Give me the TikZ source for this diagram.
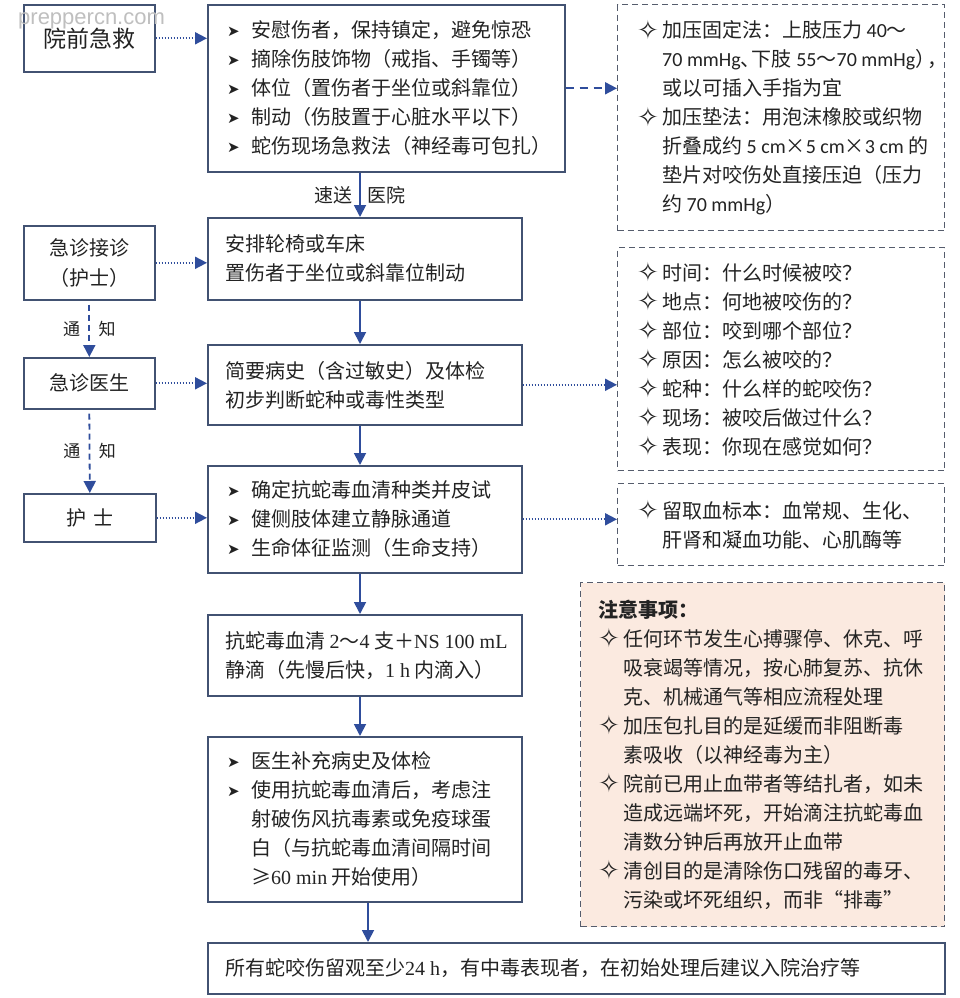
\documentclass[tikz,border=0pt]{standalone}
\usepackage{fontspec}
\setmainfont{Noto Sans CJK SC}
\newfontfamily\symf{DejaVu Sans}
\newfontfamily\serf{Liberation Serif}
\newfontfamily\calf{Carlito}
\newfontfamily\wmf{Liberation Sans}
\usetikzlibrary{arrows.meta,calc}

\definecolor{boxc}{RGB}{66,82,114}
\definecolor{arrc}{RGB}{47,77,156}
\definecolor{dashc}{RGB}{85,92,108}
\definecolor{notefill}{RGB}{251,234,224}
\definecolor{txt}{RGB}{35,35,35}

\newcommand{\arw}{\makebox[24pt][l]{\raisebox{1pt}{\symf\fontsize{15}{15}\selectfont ➤}}}
\newcommand{\dmd}{\makebox[25pt][l]{\raisebox{-1.5pt}{\symf\fontsize{26}{26}\selectfont ✧}}}
\newcommand{\indA}{\hspace*{24pt}}
\newcommand{\indB}{\hspace*{25pt}}

\tikzset{
  box/.style={draw=boxc, line width=1.6pt, fill=white, inner sep=0pt, anchor=north west, text=txt},
  dbox/.style={draw=dashc, line width=1.4pt, dash pattern=on 6pt off 4pt, inner sep=0pt, anchor=north west},
  txtn/.style={anchor=west, align=left, inner sep=0pt, text=txt, font=\fontsize{20}{29}\selectfont},
  solidarr/.style={draw=arrc, line width=1.8pt, -{Triangle[length=12pt,width=12pt]}},
  dotarr/.style={draw=arrc, line width=1.8pt, dash pattern=on 1.6pt off 1.4pt, -{Triangle[length=12pt,width=12pt]}},
  dasharr/.style={draw=arrc, line width=1.8pt, dash pattern=on 8pt off 6pt, -{Triangle[length=12pt,width=12pt]}},
  notarr/.style={draw=arrc, line width=1.8pt, dash pattern=on 6pt off 4pt, shorten <=4pt, -{Triangle[length=12pt,width=12pt]}},
  lab/.style={text=txt, font=\fontsize{19}{19}\selectfont},
  lab2/.style={text=txt, font=\fontsize{17}{17}\selectfont},
}

\begin{document}
\begin{tikzpicture}[x=1pt,y=-1pt]
\fill[white] (0,0) rectangle (960,998);
\useasboundingbox (0,0) rectangle (960,998);

% left column
\node[box, minimum width=131pt, minimum height=67pt, font=\fontsize{23}{29}\selectfont] (L1) at (23,4) {院前急救};
\node[box, minimum width=131pt, minimum height=74pt, align=center, font=\fontsize{20}{30}\selectfont] (L2) at (23,225) {急诊接诊\\（护士）};
\node[box, minimum width=131pt, minimum height=51pt, font=\fontsize{20}{29}\selectfont] (L3) at (23,357) {急诊医生};
\node[box, minimum width=132pt, minimum height=48pt, font=\fontsize{20}{29}\selectfont] (L4) at (23,493) {护\hspace{7pt}士};

% watermark
\node[font=\wmf\fontsize{22}{22}\selectfont, text=gray!50, anchor=west, inner sep=0pt] (wm) at (18,21) {preppercn.com};

% main column
\node[box, minimum width=357pt, minimum height=167pt] (b1) at (207,4) {};
\node[box, minimum width=314pt, minimum height=82pt] (b2) at (207,217) {};
\node[box, minimum width=314pt, minimum height=80pt] (b3) at (207,344) {};
\node[box, minimum width=314pt, minimum height=107pt] (b4) at (207,465) {};
\node[box, minimum width=314pt, minimum height=81pt] (b5) at (207,614) {};
\node[box, minimum width=314pt, minimum height=165pt] (b6) at (207,736) {};
\node[box, minimum width=737pt, minimum height=51pt] (b7) at (207,942) {};

\node[txtn] (t1) at ($(b1.west)+(20,0)$) {\arw 安慰伤者，保持镇定，避免惊恐\\
\arw 摘除伤肢饰物（戒指、手镯等）\\
\arw 体位（置伤者于坐位或斜靠位）\\
\arw 制动（伤肢置于心脏水平以下）\\
\arw 蛇伤现场急救法（神经毒可包扎）};
\node[txtn] (t2) at ($(b2.west)+(18,0)$) {安排轮椅或车床\\置伤者于坐位或斜靠位制动};
\node[txtn] (t3) at ($(b3.west)+(18,0)$) {简要病史（含过敏史）及体检\\初步判断蛇种或毒性类型};
\node[txtn] (t4) at ($(b4.west)+(20,0)$) {\arw 确定抗蛇毒血清种类并皮试\\
\arw 健侧肢体建立静脉通道\\
\arw 生命体征监测（生命支持）};
\node[txtn] (t5) at ($(b5.west)+(18,0)$) {抗蛇毒血清 {\serf 2}～{\serf 4} 支＋{\serf NS 100 mL}\\静滴（先慢后快，{\serf 1 h} 内滴入）};
\node[txtn] (t6) at ($(b6.west)+(20,0)$) {\arw 医生补充病史及体检\\
\arw 使用抗蛇毒血清后，考虑注\\
\indA 射破伤风抗毒素或免疫球蛋\\
\indA 白（与抗蛇毒血清间隔时间\\
\indA ≥{\serf 60 min} 开始使用）};
\node[txtn] (t7) at ($(b7.west)+(18,0)$) {所有蛇咬伤留观至少{\serf 24 h}，有中毒表现者，在初始处理后建议入院治疗等};

% right column
\node[dbox, minimum width=327pt, minimum height=226pt] (A) at (617,4) {};
\node[dbox, minimum width=327pt, minimum height=223pt] (B) at (617,247) {};
\node[dbox, minimum width=327pt, minimum height=82pt] (C) at (617,483) {};
\node[dbox, fill=notefill, minimum width=364pt, minimum height=344pt] (N) at (580,582) {};

\node[txtn] (tA) at ($(A.west)+(20,0)$) {\dmd 加压固定法：上肢压力 {\calf 40}～\\
\indB {\calf 70 mmHg}、\kern-9pt下肢{\calf\ 55}～{\calf 70 mmHg}）\kern-8pt，\\
\indB 或以可插入手指为宜\\
\dmd 加压垫法：用泡沫橡胶或织物\\
\indB 折叠成约 {\calf 5 cm}×{\calf 5 cm}×{\calf 3 cm} 的\\
\indB 垫片对咬伤处直接压迫（压力\\
\indB 约 {\calf 70 mmHg}）};
\node[txtn] (tB) at ($(B.west)+(20,0)$) {\dmd 时间：什么时候被咬？\\
\dmd 地点：何地被咬伤的？\\
\dmd 部位：咬到哪个部位？\\
\dmd 原因：怎么被咬的？\\
\dmd 蛇种：什么样的蛇咬伤？\\
\dmd 现场：被咬后做过什么？\\
\dmd 表现：你现在感觉如何？};
\node[txtn] (tC) at ($(C.west)+(20,0)$) {\dmd 留取血标本：血常规、生化、\\
\indB 肝肾和凝血功能、心肌酶等};
\node[txtn] (tN) at ($(N.west)+(18,0)$) {{\bfseries 注意事项：}\\
\dmd 任何环节发生心搏骤停、休克、呼\\
\indB 吸衰竭等情况，按心肺复苏、抗休\\
\indB 克、机械通气等相应流程处理\\
\dmd 加压包扎目的是延缓而非阻断毒\\
\indB 素吸收（以神经毒为主）\\
\dmd 院前已用止血带者等结扎者，如未\\
\indB 造成远端坏死，开始滴注抗蛇毒血\\
\indB 清数分钟后再放开止血带\\
\dmd 清创目的是清除伤口残留的毒牙、\\
\indB 污染或坏死组织，而非“排毒”};

% connectors
\coordinate (vx) at (360,0);
\coordinate (vx2) at (368,0);

\draw[dotarr] (L1.east) -- (L1.east -| b1.west);
\draw[dotarr] (L2.east) -- (L2.east -| b2.west);
\draw[dotarr] (L3.east) -- (L3.east -| b3.west);
\draw[dotarr] (L4.east) -- (L4.east -| b4.west);

\draw[notarr] (L2.south) -- node[left=5pt, lab2]{通} node[right=5pt, lab2]{知} (L3.north);
\draw[notarr] (L3.south) -- node[left=5pt, lab2]{通} node[right=5pt, lab2]{知} (L4.north);

\draw[dasharr] (b1.east) -- (b1.east -| A.west);
\draw[dotarr] (b3.east) -- (b3.east -| B.west);
\draw[dotarr] (b4.east) -- (b4.east -| C.west);

\draw[solidarr] (b1.south -| vx) -- node[left=3pt, lab]{速送} node[right=3pt, lab]{医院} (b2.north -| vx);
\draw[solidarr] (b2.south -| vx) -- (b3.north -| vx);
\draw[solidarr] (b3.south -| vx) -- (b4.north -| vx);
\draw[solidarr] (b4.south -| vx) -- (b5.north -| vx);
\draw[solidarr] (b5.south -| vx) -- (b6.north -| vx);
\draw[solidarr] (b6.south -| vx2) -- (b7.north -| vx2);
\end{tikzpicture}
\end{document}
